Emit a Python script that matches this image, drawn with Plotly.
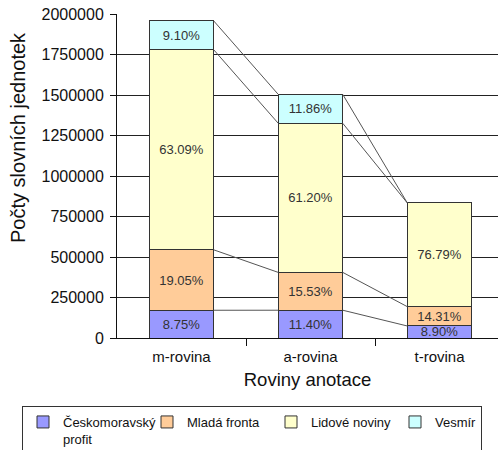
import plotly.graph_objects as go
import numpy as np

categories = ["m-rovina", "a-rovina", "t-rovina"]
series_names = ["Českomoravský<br>profit", "Mladá fronta", "Lidové noviny", "Vesmír"]

cesko = [171259, 171426, 74226]
mlada = [372856, 233531, 119345]
lidove = [1234827, 920288, 640429]
vesmir = [178110, 178343, 0]

pct_cesko = ["8.75%", "11.40%", "8.90%"]
pct_mlada = ["19.05%", "15.53%", "14.31%"]
pct_lidove = ["63.09%", "61.20%", "76.79%"]
pct_vesmir = ["9.10%", "11.86%", ""]

colors = ["#9999FF", "#FFCC99", "#FFFFCC", "#CCFFFF"]
y_ticks = [0, 250000, 500000, 750000, 1000000, 1250000, 1500000, 1750000, 2000000]

FONT = "Liberation Sans, Arial, sans-serif"
W, H = 498, 450
L, R, T, B = 117, 0, 14, 112

xs = np.arange(len(categories))
series = [cesko, mlada, lidove, vesmir]
texts = [pct_cesko, pct_mlada, pct_lidove, pct_vesmir]
legend_widths = [79, 79, 79, 41]
bar_w = 0.5

fig = go.Figure()
for name, vals, txt, col, lw in zip(series_names, series, texts, colors, legend_widths):
    fig.add_trace(go.Bar(
        x=xs, y=vals, name=name, text=txt,
        textposition="inside", insidetextanchor="middle", constraintext="none",
        textangle=0,
        textfont=dict(family=FONT, size=13, color="#333333"),
        marker=dict(color=col, line=dict(color="#333333", width=1)),
        width=bar_w, legendwidth=lw, hoverinfo="skip",
    ))

# series connector lines between neighbouring bars
cum = np.cumsum(np.array(series, dtype=float), axis=0)
for k in range(len(series)):
    lx, ly = [], []
    for i in range(len(categories) - 1):
        lx += [xs[i] + bar_w / 2, xs[i + 1] - bar_w / 2, None]
        ly += [cum[k][i], cum[k][i + 1], None]
    fig.add_trace(go.Scatter(x=lx, y=ly, mode="lines", showlegend=False,
                             line=dict(color="#555555", width=1), hoverinfo="skip"))

# boundary ticks on a helper axis
fig.add_trace(go.Scatter(x=[None], y=[None], xaxis="x2", showlegend=False, hoverinfo="skip"))

plot_w = W - L - R
plot_h = H - T - B
xmax = -0.5 + plot_w / 129.0

fig.update_layout(
    width=W, height=H,
    margin=dict(l=L, r=R, t=T, b=B, autoexpand=False),
    barmode="stack",
    paper_bgcolor="white", plot_bgcolor="white",
    font=dict(family=FONT, color="#111111"),
    xaxis=dict(
        range=[-0.5, xmax], tickmode="array", tickvals=list(xs), ticktext=categories,
        ticks="", showgrid=False, zeroline=False, showline=True, linecolor="#111111", linewidth=1,
        tickfont=dict(size=15, color="#111111"), ticklabelstandoff=5,
        title=dict(text="Roviny anotace", font=dict(size=18.5, color="#111111"), standoff=9),
    ),
    xaxis2=dict(
        range=[-0.5, xmax], overlaying="x", anchor="y", side="bottom",
        tickmode="array", tickvals=[0.5, 1.5], ticks="outside", ticklen=7, tickcolor="#111111",
        showticklabels=False, showgrid=False, zeroline=False, showline=False,
    ),
    yaxis=dict(
        range=[0, 2000000], tickmode="array", tickvals=y_ticks, tickformat="d",
        ticks="outside", ticklen=6, tickcolor="#111111",
        showgrid=True, gridcolor="#222222", gridwidth=1, zeroline=False,
        showline=True, linecolor="#111111", linewidth=1,
        tickfont=dict(size=16, color="#111111"), ticklabelstandoff=3,
    ),
    legend=dict(
        orientation="h", xref="paper", yref="paper",
        x=(22 - L) / plot_w, y=(H - B - 406) / plot_h, xanchor="left", yanchor="top",
        bordercolor="#333333", borderwidth=1, bgcolor="white",
        font=dict(family=FONT, size=13, color="#111111"),
        valign="top", traceorder="normal",
    ),
    annotations=[dict(
        text="Počty slovních jednotek", textangle=-90,
        xref="paper", yref="paper",
        x=(18 - L) / plot_w, y=(H - B - 138) / plot_h,
        showarrow=False, font=dict(size=20, color="#111111"),
        xanchor="center", yanchor="middle",
    )],
    showlegend=True,
)

fig.write_html("out.html")
